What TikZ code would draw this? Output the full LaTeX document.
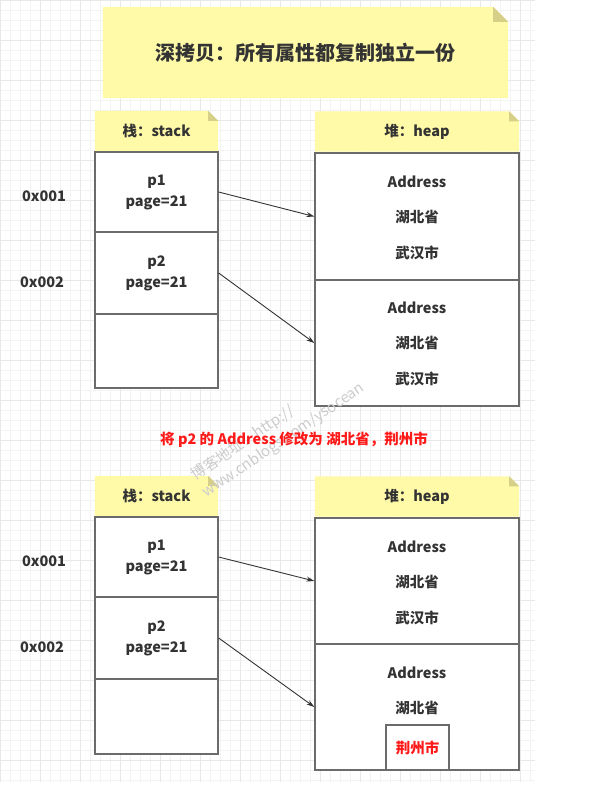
\documentclass[tikz,border=0pt]{standalone}
\usepackage{fontspec}
\setmainfont{Noto Sans CJK SC}
\usetikzlibrary{calc,backgrounds,arrows.meta}
\definecolor{notey}{HTML}{FFFAA8}
\definecolor{foldc}{HTML}{D6CF88}
\definecolor{boxc}{HTML}{6B6B6B}
\definecolor{textc}{HTML}{333333}
\definecolor{gridminor}{HTML}{F3F3F3}
\definecolor{gridmajor}{HTML}{E8E8E8}
\definecolor{redtext}{HTML}{FF1A1A}
\newcommand\notefill[2]{%
  \begin{scope}[on background layer]
    \fill[notey] (#1.south west) -- (#1.north west) -- ($(#1.north east)+(-#2,0)$)
      -- ($(#1.north east)+(0,#2)$) -- (#1.south east) -- cycle;
    \fill[foldc] ($(#1.north east)+(-#2,0)$) -- ($(#1.north east)+(-#2,#2)$)
      -- ($(#1.north east)+(0,#2)$) -- cycle;
  \end{scope}}
\begin{document}
\begin{tikzpicture}[x=1pt,y=-1pt,
  every node/.style={font=\bfseries\fontsize{14.5}{21}\selectfont, text=textc, inner sep=0pt},
  cell/.style={draw=boxc, line width=1.3pt, fill=white, minimum width=123pt, align=center},
  heapbox/.style={draw=boxc, line width=1.3pt, fill=white, minimum width=204pt},
  notebox/.style={minimum height=40pt},
  arr/.style={draw=textc, line width=0.9pt, -{Stealth[length=8pt,width=5pt]}},
  redt/.style={text=redtext},
]
\useasboundingbox (0,0) rectangle (599,795);
\begin{scope}[on background layer]
  \fill[white] (0,0) rectangle (599,795);
  \draw[gridminor, line width=0.6pt, step=10pt] (0,0) grid (535,782);
  \draw[gridmajor, line width=0.6pt, step=40pt] (0,0) grid (535,782);
\end{scope}

% title
\node[minimum width=405pt, minimum height=91pt, font=\bfseries\fontsize{20}{24}\selectfont] (title) at (305.5,52.5) {深拷贝：所有属性都复制独立一份};
\notefill{title}{15}

% ===== top diagram =====
\node[notebox, minimum width=123pt] (sl1) at (156.5,131) {栈：stack};
\notefill{sl1}{10}
\node[notebox, minimum width=204pt] (hl1) at (417,131.5) {堆：heap};
\notefill{hl1}{10}

\node[cell, minimum height=80pt] (p1a) at (156.5,192) {p1\\page=21};
\node[cell, minimum height=82pt] (p2a) at (156.5,273) {p2\\page=21};
\node[cell, minimum height=74pt] (ea) at (156.5,351) {};

\node (ad1) at (44,196) {0x001};
\node (ad2) at (42,282) {0x002};

\node[heapbox, minimum height=127pt] (h1a) at (417,216.5) {};
\node[heapbox, minimum height=126pt] (h2a) at (417,343) {};
\node (a1a) at (417,182) {Address};
\node (b1a) at (417,217) {湖北省};
\node (c1a) at (417,253) {武汉市};
\node (a2a) at (417,308) {Address};
\node (b2a) at (417,343) {湖北省};
\node (c2a) at (417,379) {武汉市};

\draw[arr] (p1a.east) -- (h1a.west);
\draw[arr] (p2a.east) -- (h2a.west);

% watermark (faint, behind the caption)
\node[rotate=34, align=left, text=black!20, font=\mdseries\fontsize{15}{20}\selectfont] (wm) at (278,432) {博客地址：http://\\www.cnblogs.com/ysocean};

% middle caption
\node[redt] (cap) at (294,440) {将 p2 的 Address 修改为 湖北省，荆州市};

% ===== bottom diagram =====
\node[notebox, minimum width=123pt] (sl2) at (156.5,496) {栈：stack};
\notefill{sl2}{10}
\node[notebox, minimum width=204pt] (hl2) at (417,496.5) {堆：heap};
\notefill{hl2}{10}

\node[cell, minimum height=80pt] (p1b) at (156.5,557) {p1\\page=21};
\node[cell, minimum height=82pt] (p2b) at (156.5,638) {p2\\page=21};
\node[cell, minimum height=75pt] (eb) at (156.5,716.5) {};

\node (ad3) at (44,561) {0x001};
\node (ad4) at (42,647) {0x002};

\node[heapbox, minimum height=126pt] (h1b) at (417,581) {};
\node[heapbox, minimum height=126pt] (h2b) at (417,707) {};
\node (a1b) at (417,547) {Address};
\node (b1b) at (417,582) {湖北省};
\node (c1b) at (417,618) {武汉市};
\node (a2b) at (417,673) {Address};
\node (b2b) at (417,708) {湖北省};
\node[draw=boxc, line width=1.3pt, fill=white, minimum width=63pt, minimum height=45pt, redt] (c2b) at (417.5,747.5) {荆州市};

\draw[arr] (p1b.east) -- (h1b.west);
\draw[arr] (p2b.east) -- (h2b.west);
\end{tikzpicture}
\end{document}
